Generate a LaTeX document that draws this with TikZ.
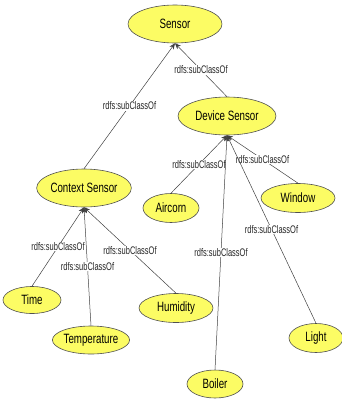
\documentclass[tikz,border=0pt]{standalone}
\usepackage{fontspec}
\setmainfont{Liberation Sans}[FakeStretch=0.72]
\newfontfamily\lblfont{Liberation Sans}[FakeStretch=0.68]
\usetikzlibrary{shapes.geometric,arrows.meta}
\definecolor{classfill}{RGB}{252,252,100}
\definecolor{classline}{RGB}{80,80,80}
\tikzset{
  cls/.style={ellipse, draw=classline, line width=0.6pt, fill=classfill,
    inner sep=0pt, font=\fontsize{13.5}{15}\selectfont},
  big/.style={cls, minimum width=#1, minimum height=38pt},
  small/.style={cls, minimum width=#1, minimum height=29pt},
  isa/.style={draw=black!75, line width=0.5pt,
    -{Stealth[length=6pt,width=5pt]}},
  lbl/.style={fill=white, inner sep=0.6pt,
    font=\lblfont\fontsize{11}{12}\selectfont, text=black!85}
}
\begin{document}
\begin{tikzpicture}[x=1pt,y=-1pt]
  \useasboundingbox (0,0) rectangle (342,399);

  % classes
  \node[big=94pt]   (sensor)  at (175,24)  {Sensor};
  \node[big=98pt]   (device)  at (227,116) {Device Sensor};
  \node[big=92pt]   (context) at (84,188)  {Context Sensor};
  \node[small=56pt] (aircorn) at (171,208) {Aircorn};
  \node[small=74pt] (window)  at (298,198) {Window};
  \node[small=58pt, minimum height=27pt] (time) at (32,300) {Time};
  \node[small=74pt, minimum height=28pt] (temp) at (91,340) {Temperature};
  \node[small=74pt] (humid)   at (176,308) {Humidity};
  \node[small=54pt] (light)   at (316,338) {Light};
  \node[small=56pt, minimum height=28pt] (boiler) at (215,384) {Boiler};

  % subclass relations, child to parent
  \draw[isa] (context.north) -- node[lbl]{rdfs:subClassOf} (sensor.south);
  \draw[isa] (device.north)  -- node[lbl]{rdfs:subClassOf} (sensor.south);

  \draw[isa] (aircorn.north) -- node[lbl]{rdfs:subClassOf} (device.south);
  \draw[isa] (window.north)  -- node[lbl]{rdfs:subClassOf} (device.south);
  \draw[isa] (light.north)   -- node[lbl]{rdfs:subClassOf} (device.south);
  \draw[isa] (boiler.north)  -- node[lbl]{rdfs:subClassOf} (device.south);

  \draw[isa] (humid.north)   -- node[lbl]{rdfs:subClassOf} (context.south);
  \draw[isa] (temp.north)    -- node[lbl]{rdfs:subClassOf} (context.south);
  \draw[isa] (time.north)    -- node[lbl]{rdfs:subClassOf} (context.south);
\end{tikzpicture}
\end{document}
